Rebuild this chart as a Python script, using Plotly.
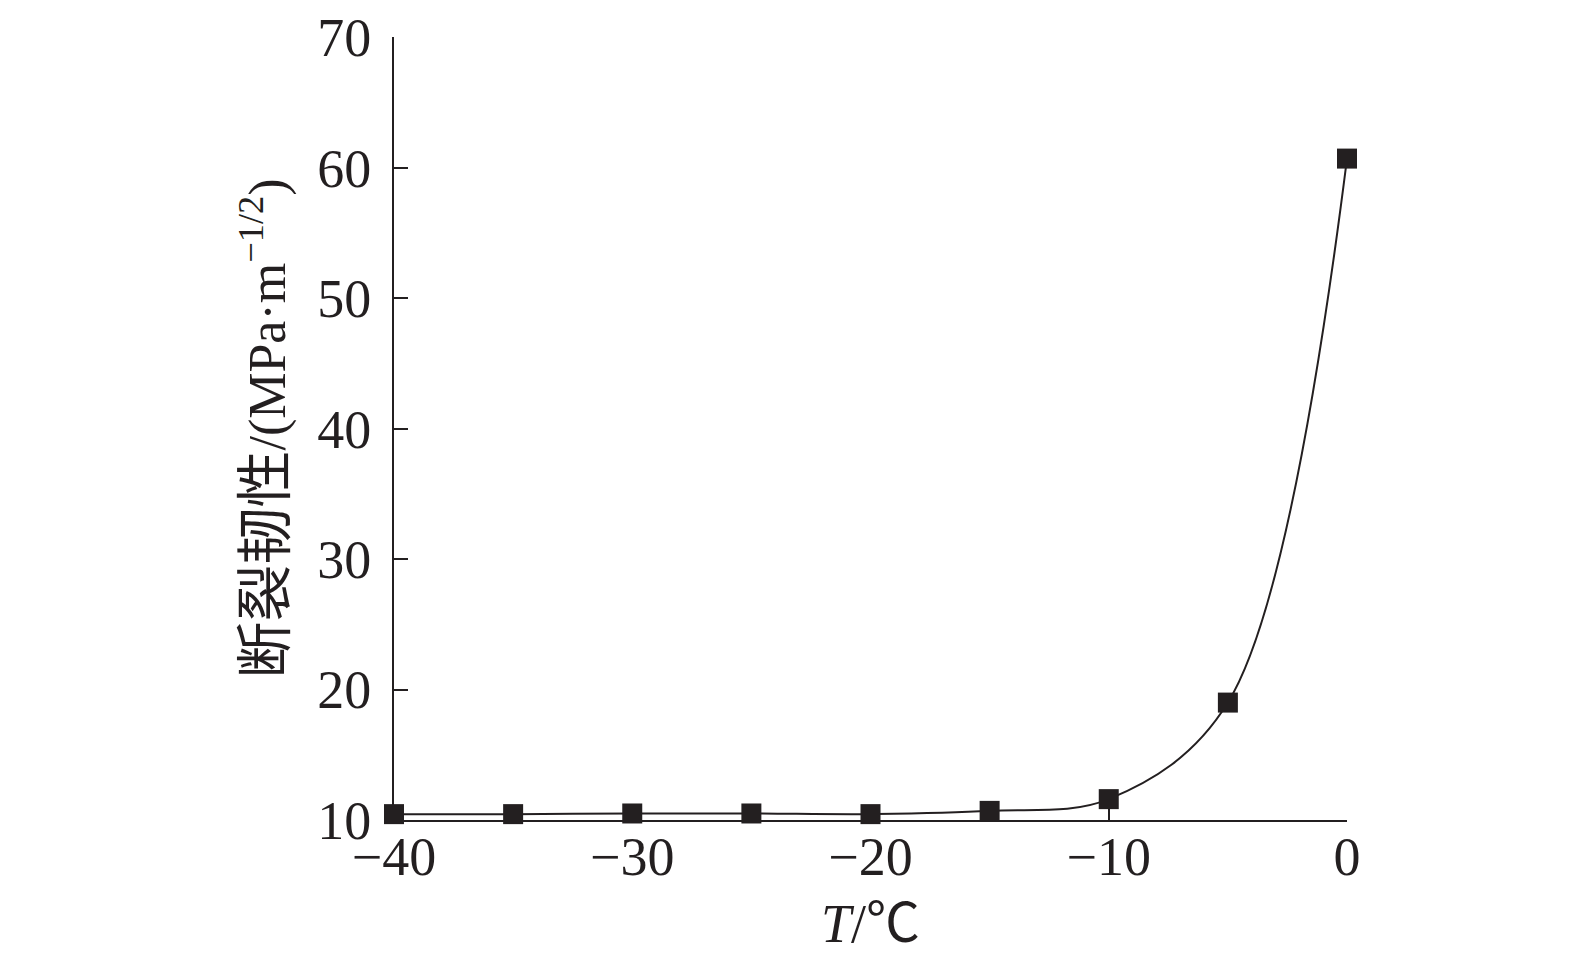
import plotly.graph_objects as go

# Daten
temperatur = [-40, -35, -30, -25, -20, -15, -10, -5, 0]
zaehigkeit = [10.45, 10.45, 10.5, 10.5, 10.45, 10.7, 11.6, 19.0, 60.7]

x_ticks = [-40, -30, -20, -10, 0]
x_tick_labels = ["−40", "−30", "−20", "−10", "0"]
y_ticks = [10, 20, 30, 40, 50, 60, 70]

SCHRIFT = "Liberation Serif, Times New Roman, Noto Sans CJK SC, serif"
FARBE = '#231f20'

fig = go.Figure()

fig.add_trace(go.Scatter(
    x=temperatur,
    y=zaehigkeit,
    mode='lines+markers',
    line=dict(color=FARBE, width=2, shape='spline', smoothing=1.0),
    marker=dict(symbol='square', size=20, color=FARBE),
    cliponaxis=False,
    showlegend=False,
))

# body hat 8px Rand, daher Margins entsprechend verschoben
fig.update_layout(
    width=1575,
    height=965,
    paper_bgcolor='white',
    plot_bgcolor='white',
    margin=dict(l=386, r=236, t=29, b=153),
    font=dict(family=SCHRIFT, size=54, color=FARBE),
)

fig.update_xaxes(
    range=[-40, 0],
    tickvals=x_ticks,
    ticktext=x_tick_labels,
    ticks='inside',
    ticklen=14,
    tickwidth=2,
    tickcolor=FARBE,
    showline=True,
    linecolor=FARBE,
    linewidth=2,
    showgrid=False,
    zeroline=False,
    ticklabelstandoff=-12,
    automargin=False,
)

# Achsentitel x als Annotation, damit der Abstand passt
fig.add_annotation(
    text="<i>T</i>/℃",
    xref='paper', yref='paper',
    x=0.5, y=0,
    xanchor='center', yanchor='middle',
    yshift=-104,
    showarrow=False,
    font=dict(size=54, family=SCHRIFT, color=FARBE),
)

fig.update_yaxes(
    range=[10, 70.02],
    tickvals=y_ticks,
    ticks='inside',
    ticklen=14,
    tickwidth=2,
    tickcolor=FARBE,
    showline=True,
    linecolor=FARBE,
    linewidth=2,
    showgrid=False,
    zeroline=False,
    ticklabelstandoff=10,
    title=dict(
        text='<span style="font-size:57px">断裂韧性</span>/(MPa·m<sup>−1/2</sup>)',
        font=dict(size=52, family=SCHRIFT),
    ),
    automargin=False,
)

fig.write_html("out.html")
